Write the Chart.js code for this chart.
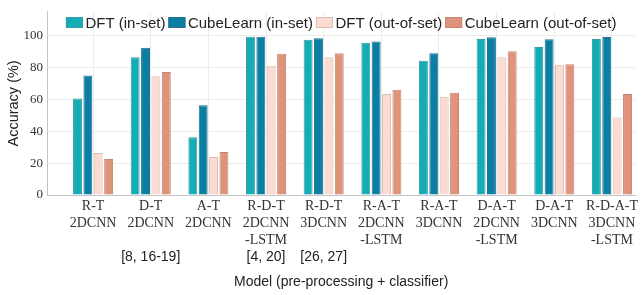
<!DOCTYPE html>
<html>
<head>
<meta charset="utf-8">
<script src="https://cdn.jsdelivr.net/npm/chart.js@4"></script>
<style>
  html, body { margin: 0; padding: 0; background: #fff; overflow: hidden; }
  #wrap { width: 641px; height: 295px; }
</style>
</head>
<body>
<div id="wrap"><canvas id="chart" width="641" height="295"></canvas></div>
<script>
// one entry per model (pre-processing + classifier)
const models = [
  ['R-T', '2DCNN'],
  ['D-T', '2DCNN'],
  ['A-T', '2DCNN'],
  ['R-D-T', '2DCNN', '-LSTM'],
  ['R-D-T', '3DCNN'],
  ['R-A-T', '2DCNN', '-LSTM'],
  ['R-A-T', '3DCNN'],
  ['D-A-T', '2DCNN', '-LSTM'],
  ['D-A-T', '3DCNN'],
  ['R-D-A-T', '3DCNN', '-LSTM'],
];
const citations = ['', '[8, 16-19]', '', '[4, 20]', '[26, 27]', '', '', '', '', ''];

const dftIn     = [60.5, 86.4, 36.2, 99.4, 97.4, 95.5, 84.3, 98.0, 92.9, 98.0];
const cubeIn    = [75.0, 92.5, 56.3, 99.4, 98.4, 96.3, 89.0, 99.0, 97.7, 99.2];
const dftOut    = [26.4, 74.6, 23.8, 81.1, 86.4, 63.4, 61.6, 86.4, 81.7, 48.6];
const cubeOut   = [22.6, 77.2, 27.0, 88.6, 89.0, 66.0, 64.2, 90.2, 82.1, 63.4];

const yTicks = [0, 20, 40, 60, 80, 100];

const serif = "'Liberation Serif', 'DejaVu Serif', serif";
const sans = "'Liberation Sans', Arial, sans-serif";

const toPoints = arr => arr.map((v, i) => ({ x: i + 1, y: v }));

function makeSet(label, values, bg, border) {
  return {
    label,
    data: toPoints(values),
    backgroundColor: bg,
    borderColor: border,
    borderWidth: 1,
    categoryPercentage: 0.72,
    barPercentage: 0.86,
  };
}

// legend drawn inside the plot, tight spacing like the original figure
const insideLegend = {
  id: 'insideLegend',
  afterDraw(chart) {
    const { ctx, chartArea } = chart;
    const boxW = 17, boxH = 11, gap = 2.5, spacing = 3;
    ctx.save();
    ctx.font = `15px ${sans}`;
    const sets = chart.data.datasets;
    const widths = sets.map(ds => boxW + gap + ctx.measureText(ds.label).width);
    const total = widths.reduce((a, b) => a + b, 0) + spacing * (sets.length - 1);
    let x = (chartArea.left + chartArea.right) / 2 - total / 2;
    const yMid = 22.5;
    sets.forEach((ds, i) => {
      ctx.fillStyle = ds.backgroundColor;
      ctx.strokeStyle = ds.borderColor;
      ctx.lineWidth = 1;
      ctx.fillRect(x, yMid - boxH / 2, boxW, boxH);
      ctx.strokeRect(x + 0.5, yMid - boxH / 2 + 0.5, boxW - 1, boxH - 1);
      ctx.fillStyle = '#222';
      ctx.textBaseline = 'middle';
      ctx.textAlign = 'left';
      ctx.fillText(ds.label, x + boxW + gap, yMid + 1);
      x += widths[i] + spacing;
    });
    ctx.restore();
  }
};

// reference numbers under some of the models
const citeLabels = {
  id: 'citeLabels',
  afterDraw(chart) {
    const { ctx } = chart;
    const xs = chart.scales.x;
    ctx.save();
    ctx.font = `14px ${sans}`;
    ctx.fillStyle = '#222';
    ctx.textAlign = 'center';
    ctx.textBaseline = 'middle';
    citations.forEach((c, i) => {
      if (c) ctx.fillText(c, xs.getPixelForValue(i + 1), 257);
    });
    ctx.restore();
  }
};

new Chart(document.getElementById('chart'), {
  type: 'bar',
  data: {
    datasets: [
      makeSet('DFT (in-set)', dftIn, '#14adb6', '#3a9ea5'),
      makeSet('CubeLearn (in-set)', cubeIn, '#0a7fa5', '#2a6f88'),
      makeSet('DFT (out-of-set)', dftOut, '#fcdcd2', '#d8bdb4'),
      makeSet('CubeLearn (out-of-set)', cubeOut, '#df937b', '#c48672'),
    ],
  },
  plugins: [insideLegend, citeLabels],
  options: {
    responsive: false,
    animation: false,
    layout: { padding: { top: 7, right: 0, left: 0, bottom: 0 } },
    plugins: {
      legend: { display: false },
      tooltip: { enabled: false },
    },
    scales: {
      x: {
        type: 'linear',
        offset: false,
        min: 0.201,
        max: 10.405,
        afterBuildTicks: s => { s.ticks = models.map((m, i) => ({ value: i + 1 })); },
        afterFit: s => { s.height = 100; },
        ticks: {
          autoSkip: false,
          maxRotation: 0,
          padding: 3,
          color: '#333',
          font: { family: serif, size: 14, lineHeight: 1.22 },
          callback: v => models[v - 1] || '',
        },
        grid: { color: '#ececec', drawTicks: false, offset: false },
        border: { color: '#c4c4c4' },
        title: {
          display: true,
          text: 'Model (pre-processing + classifier)',
          color: '#222',
          font: { family: sans, size: 14 },
          padding: { top: 0, bottom: 4.6 },
        },
      },
      y: {
        min: 0,
        max: 115,
        afterBuildTicks: s => { s.ticks = yTicks.map(v => ({ value: v })); },
        afterFit: s => { s.width = 47; },
        ticks: {
          padding: 4,
          color: '#333',
          font: { family: serif, size: 13 },
        },
        grid: { color: '#ececec', drawTicks: false },
        border: { color: '#c4c4c4' },
        title: {
          display: true,
          text: 'Accuracy (%)',
          color: '#222',
          font: { family: sans, size: 14.5 },
          padding: { top: 5, bottom: 0 },
        },
      },
    },
  },
});
</script>
</body>
</html>
